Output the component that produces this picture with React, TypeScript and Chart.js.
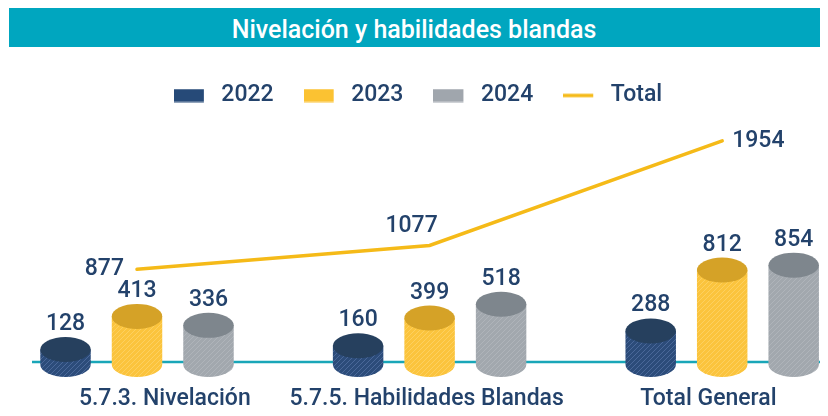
import React, { useEffect, useRef } from 'react';
import { Chart, registerables } from 'chart.js';

Chart.register(...registerables);

// ---- data ----
const titleText = 'Nivelación y habilidades blandas';
const categories = ['5.7.3. Nivelación', '5.7.5. Habilidades Blandas', 'Total General'];
const years = ['2022', '2023', '2024'];
const values2022 = [128, 160, 288];
const values2023 = [413, 399, 812];
const values2024 = [336, 518, 854];
const totalLabel = 'Total';
const totalValues = [877, 1077, 1954];

const seriesByYear = [values2022, values2023, values2024];

// ---- styles ----
const NAVY_TEXT = '#23426B';
const TEAL = '#00A6BF';
const TEAL_AXIS = '#19A6B8';
const LINE_COLOR = '#F5BA18';
const FONT = 'Roboto';
const barStyles = [
  { body: '#2C4C7A', stripe: 'rgba(110,140,190,0.45)', top: '#26405E', legend: '#264A78' },
  { body: '#FBC43D', stripe: 'rgba(255,225,140,0.45)', top: '#D5A227', legend: '#FBC232' },
  { body: '#A2A8AE', stripe: 'rgba(190,196,202,0.45)', top: '#7E868D', legend: '#A0A6AD' },
];

function makePattern(ctx: CanvasRenderingContext2D, body: string, stripe: string) {
  const c = document.createElement('canvas');
  c.width = 5;
  c.height = 5;
  const g = c.getContext('2d')!;
  g.fillStyle = body;
  g.fillRect(0, 0, 5, 5);
  g.strokeStyle = stripe;
  g.lineWidth = 1;
  g.beginPath();
  g.moveTo(0, 5);
  g.lineTo(5, 0);
  g.moveTo(-2.5, 2.5);
  g.lineTo(2.5, -2.5);
  g.moveTo(2.5, 7.5);
  g.lineTo(7.5, 2.5);
  g.stroke();
  return ctx.createPattern(c, 'repeat');
}

function legendSwatch(color: string, kind: 'box' | 'line') {
  const c = document.createElement('canvas');
  c.width = 36;
  c.height = 14;
  const g = c.getContext('2d')!;
  g.fillStyle = color;
  if (kind === 'box') g.fillRect(0, 0.5, 30, 13);
  else g.fillRect(0, 5.3, 30, 3.4);
  return c;
}

const RY = 12.5;

const cylinderPlugin = {
  id: 'cylinders',
  beforeDatasetsDraw(chart: any) {
    const { ctx, chartArea } = chart;
    const yZero = chart.scales.y.getPixelForValue(0);
    ctx.save();
    ctx.strokeStyle = TEAL_AXIS;
    ctx.lineWidth = 2.5;
    ctx.beginPath();
    ctx.moveTo(chartArea.left + 24, yZero - 2.3);
    ctx.lineTo(chartArea.right, yZero - 2.3);
    ctx.stroke();
    chart.data.datasets.forEach((ds: any, di: number) => {
      const meta = chart.getDatasetMeta(di);
      if (meta.type !== 'bar') return;
      const st = barStyles[di];
      const pattern = makePattern(ctx, st.body, st.stripe);
      meta.data.forEach((el: any) => {
        const { x, y, base, width } = el.getProps(['x', 'y', 'base', 'width'], true);
        const rx = width / 2;
        ctx.beginPath();
        ctx.moveTo(x - rx, y);
        ctx.lineTo(x - rx, base);
        ctx.ellipse(x, base, rx, RY, 0, Math.PI, 0, true);
        ctx.lineTo(x + rx, y);
        ctx.closePath();
        ctx.fillStyle = pattern;
        ctx.fill();
        ctx.beginPath();
        ctx.ellipse(x, y, rx, RY, 0, 0, Math.PI * 2);
        ctx.fillStyle = st.top;
        ctx.fill();
      });
    });
    ctx.restore();
  },
  beforeDatasetDraw(_chart: any, args: any) {
    if (args.meta.type === 'bar') return false;
    return true;
  },
  afterDatasetsDraw(chart: any) {
    const { ctx } = chart;
    ctx.save();
    ctx.font = `500 23px ${FONT}`;
    ctx.fillStyle = NAVY_TEXT;
    chart.data.datasets.forEach((ds: any, di: number) => {
      const meta = chart.getDatasetMeta(di);
      meta.data.forEach((el: any, j: number) => {
        const { x, y } = el.getProps(['x', 'y'], true);
        const v = String(ds.data[j].y);
        if (meta.type === 'bar') {
          ctx.textAlign = 'center';
          ctx.textBaseline = 'alphabetic';
          ctx.fillText(v, x, y - RY - 7);
        } else {
          ctx.textBaseline = 'middle';
          if (j === 0) {
            ctx.textAlign = 'right';
            ctx.fillText(v, x - 13, y);
          } else if (j === ds.data.length - 1) {
            ctx.textAlign = 'left';
            ctx.fillText(v, x + 10, y);
          } else {
            ctx.textAlign = 'center';
            ctx.fillText(v, x - 18, y - 19);
          }
        }
      });
    });
    ctx.restore();
  },
};

export default function App() {
  const ref = useRef<HTMLCanvasElement | null>(null);

  useEffect(() => {
    if (!ref.current) return;
    const barDatasets = years.map((yr, i) => ({
      type: 'bar' as const,
      label: yr,
      data: seriesByYear[i].map((v, j) => ({ x: j, y: v })),
      backgroundColor: barStyles[i].legend,
      yAxisID: 'y',
    }));
    const lineDataset = {
      type: 'line' as const,
      label: totalLabel,
      data: totalValues.map((v, j) => ({ x: j, y: v })),
      borderColor: LINE_COLOR,
      backgroundColor: LINE_COLOR,
      borderWidth: 3.5,
      borderCapStyle: 'round' as const,
      pointRadius: 0,
      tension: 0,
      yAxisID: 'y2',
    };
    const swatches = [
      ...barStyles.map((s) => legendSwatch(s.legend, 'box')),
      legendSwatch(LINE_COLOR, 'line'),
    ];
    const chart = new Chart(ref.current, {
      type: 'bar',
      data: { datasets: [...barDatasets, lineDataset] as any },
      options: {
        responsive: false,
        animation: false,
        devicePixelRatio: 1,
        layout: { padding: { top: 7, bottom: -18, left: 0, right: 0 } },
        datasets: { bar: { categoryPercentage: 0.819, barPercentage: 0.706 } } as any,
        scales: {
          x: {
            type: 'linear',
            min: -0.4409,
            max: 2.3616,
            offset: false,
            grid: { display: false, drawTicks: false },
            border: { display: false },
            afterBuildTicks: (axis: any) => {
              axis.ticks = [0.095, 0.99, 1.953].map((v) => ({ value: v }));
            },
            ticks: {
              autoSkip: false,
              maxRotation: 0,
              minRotation: 0,
              padding: 21,
              color: NAVY_TEXT,
              font: { family: FONT, size: 23, weight: 500 },
              callback: (v: any) => categories[Math.round(Number(v))] ?? '',
            },
          },
          y: { display: false, min: 0, max: 2129 },
          y2: { display: false, position: 'right', min: 80, max: 2154 },
        } as any,
        plugins: {
          legend: {
            display: true,
            position: 'top',
            labels: {
              usePointStyle: true,
              pointStyleWidth: 36,
              boxHeight: 14,
              padding: 30,
              color: NAVY_TEXT,
              font: { family: FONT, size: 23, weight: 500 },
              generateLabels: (c: any) =>
                c.data.datasets.map((ds: any, i: number) => ({
                  text: ds.label,
                  fillStyle: i < 3 ? barStyles[i].legend : LINE_COLOR,
                  strokeStyle: 'transparent',
                  lineWidth: 0,
                  pointStyle: swatches[i],
                  datasetIndex: i,
                  hidden: false,
                  fontColor: NAVY_TEXT,
                })),
            },
          } as any,
          tooltip: { enabled: false },
          title: { display: false },
        },
      },
      plugins: [cylinderPlugin as any],
    });
    return () => chart.destroy();
  }, []);

  return (
    <div style={{ fontFamily: FONT }}>
      <div
        style={{
          marginLeft: 1,
          marginRight: -8,
          height: 39,
          boxSizing: 'border-box',
          paddingTop: 4,
          paddingRight: 9,
          background: TEAL,
          color: '#FFFFFF',
          display: 'flex',
          alignItems: 'center',
          justifyContent: 'center',
          fontFamily: FONT,
          fontWeight: 500,
          fontSize: 25,
          whiteSpace: 'nowrap',
        }}
      >
        {titleText}
      </div>
      <canvas ref={ref} width={820} height={369} style={{ display: 'block', width: 820, height: 369 }} />
    </div>
  );
}
